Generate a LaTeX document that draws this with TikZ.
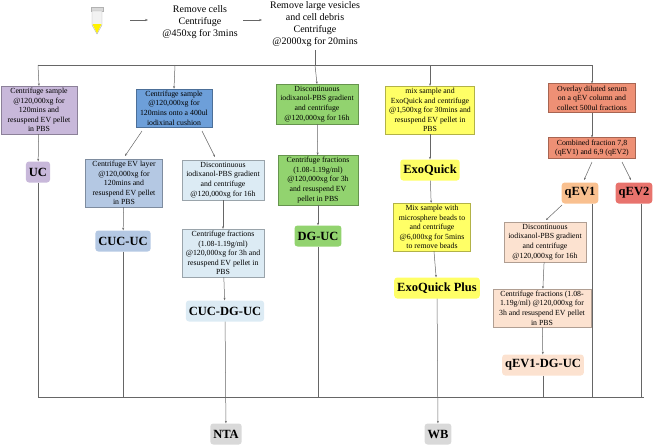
\documentclass[tikz,border=0pt]{standalone}
\usepackage{fontspec}
\setmainfont{Liberation Serif}
\usetikzlibrary{arrows.meta}
\begin{document}
\begin{tikzpicture}[x=1pt,y=-1pt,
 box/.style={draw=#1!70!black,fill=#1,align=center,font=\fontsize{7.8}{9.6}\selectfont,inner sep=2pt},
 lab/.style={fill=#1,rounded corners=3pt,font=\fontsize{12.5}{12.5}\selectfont\bfseries,inner sep=3pt,minimum height=21pt},
 arr/.style={draw=gray!80!black,line width=0.5pt,-{Stealth[length=2.5pt,width=2pt]}},
 ln/.style={draw=gray!80!black,line width=0.5pt},
 plain/.style={align=center,font=\fontsize{10}{12}\selectfont}]
\useasboundingbox (0,0) rectangle (656,445);
\definecolor{cpur}{HTML}{C8B8DA}\definecolor{cblue}{HTML}{6D9FD9}
\definecolor{cblue2}{HTML}{B4C8E3}\definecolor{clb}{HTML}{DCEBF4}
\definecolor{cgreen}{HTML}{92D36F}\definecolor{cyel}{HTML}{FFFF66}
\definecolor{csal}{HTML}{EE9075}\definecolor{cpea}{HTML}{FCE2D0}
\definecolor{corg}{HTML}{F9C08F}\definecolor{cred}{HTML}{E8736D}
\definecolor{cgry}{HTML}{D9D9D9}
% tube
\node (tube) at (97,20) {};
\fill[gray!30,draw=gray!60] (91,7) rectangle (103,11);
\draw[gray!60,fill=gray!10] (92,11) -- (92,25) -- (97,34) -- (102,25) -- (102,11) -- cycle;
\fill[yellow] (92.5,24) -- (97,33) -- (101.5,24) -- cycle;
\node[plain] (s1) at (200,22) {Remove cells\\Centrifuge\\@450xg for 3mins};
\node[plain] (s2) at (315,24) {Remove large vesicles\\and cell debris\\Centrifuge\\@2000xg for 20mins};
\coordinate (a1) at (130,20);\coordinate (a2) at (148,20);
\coordinate (b1) at (243,20);\coordinate (b2) at (262,20);
\draw[ln,-{Stealth[length=3pt]}] (a1)--(a2);
\draw[ln,-{Stealth[length=3pt]}] (b1)--(b2);
\coordinate (top) at (315,65);
\draw[ln] (s2.south) -- (top);
\draw[ln] (38,65) -- (592,65);
% column 1
\node[box=cpur,minimum width=76pt] (p1) at (39,110) {Centrifuge sample\\@120,000xg for\\120mins and\\resuspend EV pellet\\in PBS};
\node[lab=cpur] (uc) at (38,172) {UC};
\draw[arr] (38,65) -- (p1.north);
\draw[arr] (p1) -- (uc);
% column 2
\node[box=cblue,minimum width=76pt] (b1n) at (174,108) {Centrifuge sample\\@120,000xg for\\120mins onto a 400ul\\iodixinal cushion};
\draw[arr] (175,65) -- (b1n.north);
\node[box=cblue2,minimum width=77pt] (b2n) at (124,183) {Centrifuge EV layer\\@120,000xg for\\120mins and\\resuspend EV pellet\\in PBS};
\node[box=clb,minimum width=82pt] (b3n) at (223,180) {Discontinuous\\iodixanol-PBS gradient\\and centrifuge\\@120,000xg for 16h};
\draw[arr] (142,131) -- (125,156);
\draw[arr] (202,131) -- (215,157);
\node[lab=cblue2] (cucuc) at (123,241) {CUC-UC};
\draw[arr] (b2n) -- (cucuc);
\node[box=clb,minimum width=82pt] (b4n) at (223,253) {Centrifuge fractions\\(1.08-1.19g/ml)\\@120,000xg for 3h and\\resuspend EV pellet in\\PBS};
\draw[arr] (b3n) -- (b4n);
\node[lab=clb] (cdg) at (225,311) {CUC-DG-UC};
\draw[arr] (b4n) -- (cdg);
% column 3
\node[box=cgreen,minimum width=82pt] (g1) at (317,104) {Discontinuous\\iodixanol-PBS gradient\\and centrifuge\\@120,000xg for 16h};
\draw[arr] (top) -- (g1.north);
\node[box=cgreen,minimum width=80pt] (g2) at (318,180) {Centrifuge fractions\\(1.08-1.19g/ml)\\@120,000xg for 3h\\and resuspend EV\\pellet in PBS};
\draw[arr] (g1) -- (g2);
\node[lab=cgreen] (dguc) at (318,236) {DG-UC};
\draw[arr] (g2) -- (dguc);
% column 4
\node[box=cyel,minimum width=89pt] (y1) at (430,110) {mix sample and\\ExoQuick and centrifuge\\@1,500xg for 30mins and\\resuspend EV pellet in\\PBS};
\draw[arr] (430,65) -- (y1.north);
\node[lab=cyel] (exo) at (430,170) {ExoQuick};
\draw[arr] (y1) -- (exo);
\node[box=cyel,minimum width=77pt] (y2) at (432,227) {Mix sample with\\microsphere beads to\\and centrifuge\\@6,000xg for 5mins\\to remove beads};
\draw[arr] (exo) -- (y2);
\node[lab=cyel] (exop) at (437,288) {ExoQuick Plus};
\draw[arr] (y2) -- (exop);
% column 5
\node[box=csal,minimum width=87pt] (r1) at (592,98) {Overlay diluted serum\\on a qEV column and\\collect 500ul fractions};
\draw[arr] (592,65) -- (r1.north);
\node[box=csal,minimum width=87pt] (r2) at (592,148) {Combined fraction 7,8\\(qEV1) and 6,9 (qEV2)};
\draw[arr] (r1) -- (r2);
\node[lab=corg] (q1) at (580,193) {qEV1};
\node[lab=cred] (q2) at (634,193) {qEV2};
\draw[arr] (592,162) -- (584,180);
\draw[arr] (622,162) -- (631,180);
\node[box=cpea,minimum width=82pt] (e1) at (545,242) {Discontinuous\\iodixanol-PBS gradient\\and centrifuge\\@120,000xg for 16h};
\draw[arr] (562,205) -- (546,220);
\node[box=cpea,minimum width=98pt] (e2) at (542,308) {Centrifuge fractions (1.08-\\1.19g/ml) @120,000xg for\\3h and resuspend EV pellet\\in PBS};
\draw[arr] (e1) -- (e2);
\node[lab=cpea] (qdg) at (543,365) {qEV1-DG-UC};
\draw[arr] (e2) -- (qdg);
% bottom
\node[lab=cgry] (nta) at (226,434) {NTA};
\node[lab=cgry] (wb) at (438,434) {WB};
\draw[ln] (38,397) -- (644,397);
\draw[ln] (uc) -- (38,397);
\draw[ln] (cucuc) -- (123,397);
\draw[ln] (dguc) -- (318,397);
\draw[ln] (qdg) -- (543,397);
\draw[ln] (q1.south -| 592,0) -- (592,397);
\draw[ln] (q2.south -| 641,0) -- (641,397);
\draw[arr] (cdg) -- (nta);
\draw[arr] (exop) -- (wb);
\end{tikzpicture}
\end{document}
